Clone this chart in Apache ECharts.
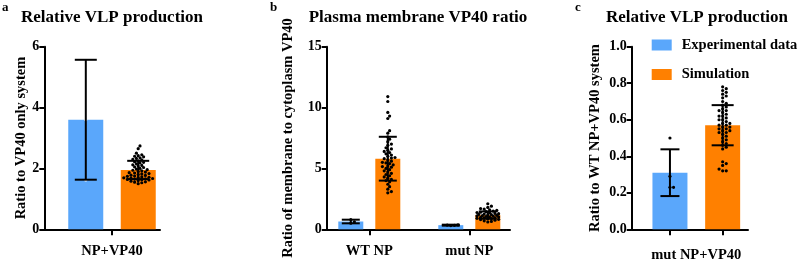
<!DOCTYPE html>
<html>
<head>
<meta charset="utf-8">
<script src="https://cdn.jsdelivr.net/npm/echarts@6/dist/echarts.min.js"></script>
<style>
  html, body { margin: 0; padding: 0; background: #fff; }
  #chart { width: 800px; height: 261px; }
</style>
</head>
<body>
<div id="chart"></div>
<script>
// ---- data ----
// panel a: relative VLP production (NP+VP40)
const aCats = ["NP+VP40"];
const aExpMean = [3.6];
const aExpSd = [1.97];
const aExpPts = [[5.57, 3.6, 1.62]];
const aSimMean = [1.95];
const aSimSd = [0.3];
const aSimPts = [[2.74, 2.65, 2.5, 2.45, 2.42, 2.4, 2.38, 2.35, 2.33, 2.3, 2.28, 2.25, 2.22, 2.2,
  2.18, 2.15, 2.12, 2.1, 2.08, 2.05, 2.03, 2.0, 1.98, 1.96, 1.94, 1.92, 1.9, 1.88, 1.86, 1.85,
  1.83, 1.82, 1.8, 1.78, 1.77, 1.75, 1.74, 1.72, 1.71, 1.7, 1.69, 1.68, 1.67, 1.66, 1.65, 1.64,
  1.63, 1.62, 1.6, 1.58, 1.56, 1.55, 1.53, 1.5]];

// panel b: plasma membrane VP40 ratio
const bCats = ["WT NP", "mut NP"];
const bExpMean = [0.64, 0.34];
const bExpSd = [0.15, 0.04];
const bExpPts = [[0.5, 0.62, 0.8], [0.31, 0.33, 0.36, 0.35]];
const bSimMean = [5.8, 1.17];
const bSimSd = [1.8, 0.3];
const bSimPts = [
  [10.9, 10.5, 9.6, 9.3, 9.1, 8.1, 7.9, 7.6, 7.4, 7.2, 7.0, 6.9, 6.7, 6.6, 6.5, 6.4, 6.3, 6.2,
   6.1, 6.0, 5.9, 5.85, 5.8, 5.7, 5.6, 5.5, 5.45, 5.4, 5.3, 5.2, 5.15, 5.1, 5.0, 4.9, 4.8, 4.7,
   4.6, 4.5, 4.4, 4.3, 4.2, 4.1, 4.0, 3.9, 3.7, 3.5, 3.3, 3.1, 3.0],
  [2.1, 1.9, 1.8, 1.7, 1.65, 1.6, 1.55, 1.5, 1.45, 1.4, 1.38, 1.35, 1.3, 1.28, 1.25, 1.22, 1.2,
   1.18, 1.15, 1.12, 1.1, 1.08, 1.05, 1.02, 1.0, 0.98, 0.95, 0.92, 0.9, 0.88, 0.85, 0.82, 0.8,
   0.75, 0.7, 0.65, 0.6]
];

// panel c: relative VLP production (mut NP+VP40)
const cCats = ["", ""];
const cExpMean = [0.31];
const cExpSd = [0.128];
const cExpPts = [[0.5, 0.29, 0.23, 0.23]];
const cSimMean = [0.57];
const cSimSd = [0.11];
const cSimPts = [[0.78, 0.77, 0.76, 0.75, 0.74, 0.73, 0.72, 0.7, 0.69, 0.68, 0.67, 0.66, 0.65,
  0.65, 0.64, 0.63, 0.62, 0.62, 0.61, 0.6, 0.6, 0.59, 0.58, 0.58, 0.57, 0.57, 0.56, 0.56, 0.55,
  0.55, 0.54, 0.54, 0.53, 0.53, 0.52, 0.51, 0.5, 0.49, 0.48, 0.47, 0.46, 0.45, 0.44, 0.37, 0.36,
  0.35, 0.33, 0.32, 0.32]];

// ---- styling ----
const FONT = "Liberation Serif, Times New Roman, serif";
const BLUE = "#5aa7fb";
const ORANGE = "#ff8000";
const TOP = 46.7, H = 182.6;

let myChart = echarts.init(document.getElementById("chart"), null, { renderer: "canvas" });

// simple beeswarm: horizontal offsets (px), kept within +-maxW, dots may overlap
function swarm(vals, k, d, maxW) {
  const placed = [];
  const off = new Array(vals.length);
  const order = vals.map((v, i) => i).sort((a, b) => vals[a] - vals[b]);
  const step = d * 0.5;
  const nSteps = Math.floor(maxW / step) * 2 + 1;
  for (const i of order) {
    const y = vals[i] * k;
    let best = 0, bestGap = -1;
    for (let s = 0; s < nSteps; s++) {
      const x = s === 0 ? 0 : (s % 2 ? 1 : -1) * Math.ceil(s / 2) * step;
      let gap = Infinity;
      placed.forEach(p => { gap = Math.min(gap, (p[0] - x) ** 2 + (p[1] - y) ** 2); });
      if (gap >= d * d * 0.6) { best = x; bestGap = gap; break; }
      if (gap > bestGap) { best = x; bestGap = gap; }
    }
    placed.push([best, y]);
    off[i] = best;
  }
  return off;
}

// dots for one bar series: cat index, value, point index
function dotSeries(gridIdx, pts, catOf, shift, fill, maxW) {
  const data = [];
  pts.forEach((list, c) => list.forEach((v, j) => data.push([catOf(c), v, c, j])));
  const cache = {};
  return {
    type: "custom",
    xAxisIndex: gridIdx, yAxisIndex: gridIdx,
    z: 5,
    silent: true,
    data: data,
    renderItem: function (params, api) {
      const c = api.value(2), j = api.value(3);
      if (!cache[c]) {
        const k = Math.abs(api.size([0, 1])[1]);
        cache[c] = swarm(pts[c], k, 3.6, maxW);
      }
      const p = api.coord([api.value(0), api.value(1)]);
      return {
        type: "circle",
        shape: { cx: p[0] + shift + cache[c][j], cy: p[1], r: 1.6 },
        style: { fill: fill }
      };
    }
  };
}

// mean +- sd error bars
function errSeries(gridIdx, means, sds, catOf, shift, cap) {
  const data = means.map((m, i) => [catOf(i), m, sds[i]]);
  return {
    type: "custom",
    xAxisIndex: gridIdx, yAxisIndex: gridIdx,
    z: 6,
    silent: true,
    data: data,
    renderItem: function (params, api) {
      const x = api.value(0), m = api.value(1), s = api.value(2);
      const hi = api.coord([x, m + s]);
      const lo = api.coord([x, m - s]);
      const cx = hi[0] + shift;
      const st = { stroke: "#000", lineWidth: 2 };
      return {
        type: "group",
        children: [
          { type: "line", shape: { x1: cx, y1: hi[1], x2: cx, y2: lo[1] }, style: st },
          { type: "line", shape: { x1: cx - cap / 2, y1: hi[1], x2: cx + cap / 2, y2: hi[1] }, style: st },
          { type: "line", shape: { x1: cx - cap / 2, y1: lo[1], x2: cx + cap / 2, y2: lo[1] }, style: st }
        ]
      };
    }
  };
}

const labelStyle = { fontFamily: FONT, fontWeight: "bold", fontSize: 14, color: "#000" };
const nameStyle = Object.assign({}, labelStyle, { fontSize: 14.5 });
const lineStyle = { color: "#000", width: 2 };

// frame grids (0..2) draw the axes lines, bar grids (3..5) hold the marks
function g(left, width) {
  return { left: left, width: width, top: TOP, height: H, containLabel: false, outerBoundsMode: "none" };
}
const grids = [
  g(44.3, 115.7), g(326.7, 183.3), g(631.7, 116.3),
  g(64, 96), g(319.3, 200), g(643.6, 105.4)
];

function frameY(gi, max, interval, fmt, name, gap) {
  return {
    gridIndex: gi, type: "value", min: 0, max: max, interval: interval,
    name: name, nameLocation: "middle", nameGap: gap,
    nameTextStyle: nameStyle,
    axisLine: { show: true, lineStyle: lineStyle },
    axisTick: { show: true, length: 5, lineStyle: lineStyle },
    axisLabel: Object.assign({ margin: 5, formatter: fmt }, labelStyle),
    splitLine: { show: false }
  };
}
function hiddenY(gi, max) {
  return { gridIndex: gi, type: "value", min: 0, max: max, show: false };
}
function frameX(gi) {
  return {
    gridIndex: gi, type: "category", data: [""],
    axisLine: { show: true, lineStyle: lineStyle },
    axisTick: { show: false }, axisLabel: { show: false }
  };
}
function barX(gi, cats, name) {
  return {
    gridIndex: gi, type: "category", data: cats,
    name: name || "", nameLocation: "middle", nameGap: 14,
    nameTextStyle: nameStyle,
    axisLine: { show: false },
    axisTick: { show: true, length: 6, alignWithLabel: true, lineStyle: lineStyle },
    axisLabel: Object.assign({ margin: 14 }, nameStyle)
  };
}

const idx = i => i;
const series = [
  // panel a
  { name: "Experimental data", type: "bar", xAxisIndex: 3, yAxisIndex: 3, data: aExpMean,
    barWidth: 35, barGap: "50%", itemStyle: { color: BLUE } },
  { name: "Simulation", type: "bar", xAxisIndex: 3, yAxisIndex: 3, data: aSimMean,
    barWidth: 35, barGap: "50%", itemStyle: { color: ORANGE } },
  dotSeries(3, aExpPts, idx, -26.2, "#fff", 16),
  dotSeries(3, aSimPts, idx, 26.2, "#000", 16),
  errSeries(3, aExpMean, aExpSd, idx, -26.2, 22),
  errSeries(3, aSimMean, aSimSd, idx, 26.2, 22),
  // panel b
  { name: "Experimental data", type: "bar", xAxisIndex: 4, yAxisIndex: 4, data: bExpMean,
    barWidth: 25, barGap: "48%", itemStyle: { color: BLUE } },
  { name: "Simulation", type: "bar", xAxisIndex: 4, yAxisIndex: 4, data: bSimMean,
    barWidth: 25, barGap: "48%", itemStyle: { color: ORANGE } },
  dotSeries(4, bExpPts, idx, -18.5, "#000", 11),
  dotSeries(4, bSimPts, idx, 18.5, "#000", 12),
  errSeries(4, bExpMean, bExpSd, idx, -18.5, 18),
  errSeries(4, bSimMean, bSimSd, idx, 18.5, 18),
  // panel c: experiment in the first slot, simulation in the second
  { name: "Experimental data", type: "bar", xAxisIndex: 5, yAxisIndex: 5,
    data: [cExpMean[0], "-"], barWidth: 35, barGap: "-100%", itemStyle: { color: BLUE } },
  { name: "Simulation", type: "bar", xAxisIndex: 5, yAxisIndex: 5,
    data: ["-", cSimMean[0]], barWidth: 35, barGap: "-100%", itemStyle: { color: ORANGE } },
  dotSeries(5, cExpPts, () => 0, 0, "#000", 12),
  dotSeries(5, cSimPts, () => 1, 0, "#000", 17),
  errSeries(5, cExpMean, cExpSd, () => 0, 0, 19),
  errSeries(5, cSimMean, cSimSd, () => 1, 0, 22)
];

const titleStyle = { fontFamily: FONT, fontWeight: "bold", fontSize: 17, color: "#000" };
const letterStyle = { fontFamily: FONT, fontWeight: "bold", fontSize: 13, color: "#000" };

let option = {
  animation: false,
  backgroundColor: "#fff",
  title: [
    { text: "Relative VLP production", left: 112, top: 9, textAlign: "center", textStyle: titleStyle, padding: 0 },
    { text: "Plasma membrane VP40 ratio", left: 418, top: 9, textAlign: "center", textStyle: titleStyle, padding: 0 },
    { text: "Relative VLP production", left: 697, top: 9, textAlign: "center", textStyle: titleStyle, padding: 0 },
    { text: "a", left: 2, top: 1, textStyle: letterStyle, padding: 0 },
    { text: "b", left: 270, top: 1, textStyle: letterStyle, padding: 0 },
    { text: "c", left: 575, top: 1, textStyle: letterStyle, padding: 0 }
  ],
  legend: {
    data: ["Experimental data", "Simulation"],
    orient: "vertical", left: 651.7, top: 37.5,
    itemWidth: 20, itemHeight: 11, itemGap: 14.5, icon: "rect",
    padding: 0,
    textStyle: Object.assign({}, labelStyle, { fontSize: 14.5, padding: [0, 0, 0, 5] })
  },
  grid: grids,
  xAxis: [frameX(0), frameX(1), frameX(2), barX(3, aCats), barX(4, bCats), barX(5, cCats, "mut NP+VP40")],
  yAxis: [
    frameY(0, 6, 2, "{value}", "Ratio to VP40 only system", 14),
    frameY(1, 15, 5, "{value}", "Ratio of membrane to cytoplasm VP40", 31),
    frameY(2, 1, 0.2, v => v.toFixed(1), "Ratio to WT NP+VP40 system", 29),
    hiddenY(3, 6), hiddenY(4, 15), hiddenY(5, 1)
  ],
  series: series
};

myChart.setOption(option);
window.addEventListener("resize", () => {
  myChart.resize();
});
</script>
</body>
</html>
